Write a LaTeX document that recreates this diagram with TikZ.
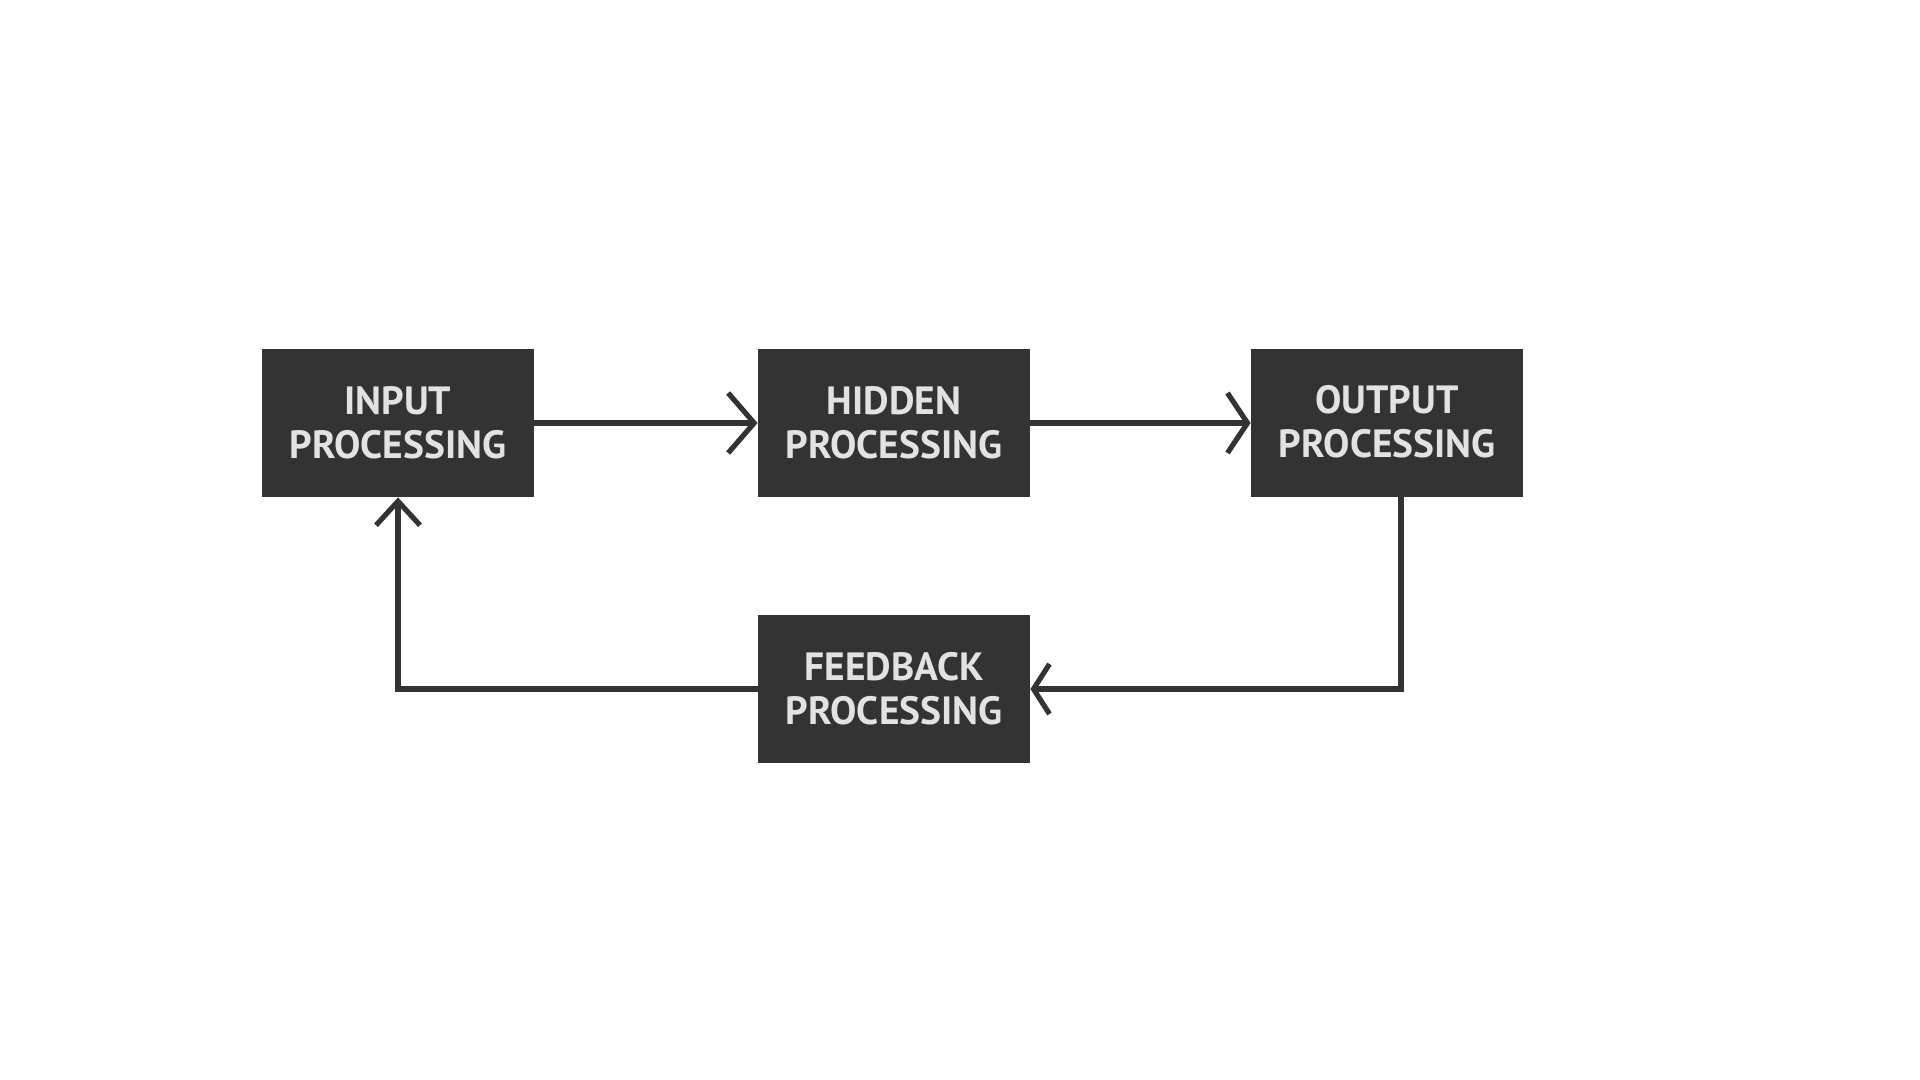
\documentclass[tikz,border=0pt]{standalone}
\usepackage{fontspec}
\setmainfont{PT Sans}
\usetikzlibrary{arrows.meta}
\definecolor{boxc}{HTML}{333333}
\definecolor{txtc}{HTML}{E2E2E2}
\begin{document}
\begin{tikzpicture}[x=0.5pt,y=-0.5pt,
  procbox/.style={rectangle, fill=boxc, draw=none, minimum width=136pt, minimum height=74pt,
    inner sep=0pt, align=center, text=txtc, font=\bfseries\fontsize{19.7}{22}\selectfont},
  conn/.style={draw=boxc, line width=2.6pt},
  barb/.style 2 args={-{Straight Barb[length=#1,width=#2,line width=2.6pt]}}]
\useasboundingbox (0,0) rectangle (1920,1080);
\node[procbox] (in) at (398,423) {INPUT\\PROCESSING};
\node[procbox] (hid) at (894,423) {HIDDEN\\PROCESSING};
\node[procbox] (out) at (1387,423) {\raisebox{2pt}{OUTPUT}\\\raisebox{2pt}{PROCESSING}};
\node[procbox] (fb) at (894,689) {FEEDBACK\\PROCESSING};
\draw[conn, barb={13pt}{30pt}] (in.east) -- (hid.west);
\draw[conn, barb={10pt}{30pt}] (hid.east) -- (out.west);
\draw[conn, barb={8pt}{25pt}] ([xshift=7pt]out.south) |- (fb.east);
\draw[conn, barb={12pt}{22pt}] (fb.west) -| (in.south);
\end{tikzpicture}
\end{document}
